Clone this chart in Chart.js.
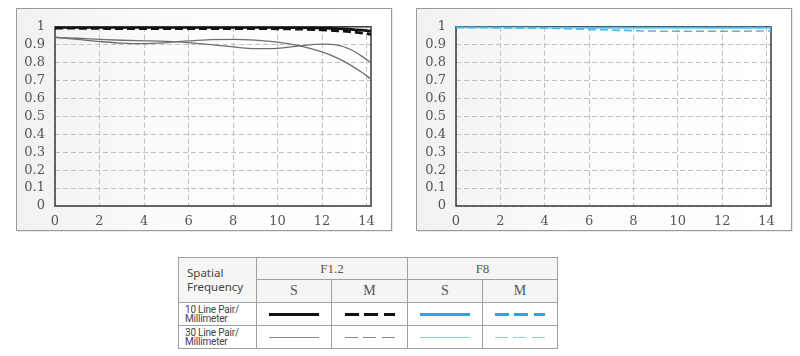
<!DOCTYPE html>
<html>
<head>
<meta charset="utf-8">
<script src="https://cdn.jsdelivr.net/npm/chart.js@4/dist/chart.umd.min.js"></script>
<style>
  html, body { margin: 0; padding: 0; background: #fff; width: 800px; height: 356px; overflow: hidden; }
  .box { position: absolute; top: 8px; width: 374px; height: 221px; border: 1px solid #9a9a9a;
         background: linear-gradient(to right, #f1f1f1, #fcfcfc 40%, #ffffff); box-shadow: 1px 1px 1px rgba(0,0,0,0.08); }
  .box canvas { position: absolute; left: 0; top: 0; }
  table { position: absolute; left: 178px; top: 257px; border-collapse: collapse; table-layout: fixed; }
  td { border: 1px solid #a0a0a0; padding: 0; text-align: center; vertical-align: middle; color: #555; }
  .hdr { background: #f5f5f5; }
  .sf { font-family: "Noto Sans", sans-serif; font-size: 11.5px; line-height: 14px; text-align: left; padding-left: 8px; color: #444; }
  .ap { font-family: "Liberation Serif", serif; font-size: 13px; }
  .sm { font-family: "Liberation Serif", serif; font-size: 14px; }
  .lp { font-family: "Roboto", sans-serif; font-size: 10px; line-height: 9.5px; text-align: left; padding-left: 6px; color: #444; letter-spacing: -0.2px; }
  .smp { margin: 0 auto; width: 50px; }
</style>
</head>
<body>
<div class="box" style="left:16px;"><canvas id="c1" width="374" height="221"></canvas></div>
<div class="box" style="left:416px;"><canvas id="c2" width="374" height="221"></canvas></div>

<table>
  <colgroup><col style="width:78px"><col style="width:75px"><col style="width:76px"><col style="width:75px"><col style="width:75px"></colgroup>
  <tr style="height:22px">
    <td class="hdr sf" rowspan="2">Spatial<br>Frequency</td>
    <td class="hdr ap" colspan="2">F1.2</td>
    <td class="hdr ap" colspan="2">F8</td>
  </tr>
  <tr style="height:23px">
    <td class="hdr sm">S</td><td class="hdr sm">M</td><td class="hdr sm">S</td><td class="hdr sm">M</td>
  </tr>
  <tr style="height:23px">
    <td class="lp">10 Line Pair/<br>Millimeter</td>
    <td><div class="smp" style="height:3px;background:#111;"></div></td>
    <td><div class="smp" style="height:3px;background:repeating-linear-gradient(to right,#111 0 14px,transparent 14px 19.5px);"></div></td>
    <td><div class="smp" style="height:3px;background:#2ba6dd;"></div></td>
    <td><div class="smp" style="height:3px;background:repeating-linear-gradient(to right,#2ba6dd 0 14px,transparent 14px 19.5px);"></div></td>
  </tr>
  <tr style="height:23px">
    <td class="lp">30 Line Pair/<br>Millimeter</td>
    <td><div class="smp" style="height:1px;background:#888;"></div></td>
    <td><div class="smp" style="height:1px;background:repeating-linear-gradient(to right,#888 0 13px,transparent 13px 18.5px);"></div></td>
    <td><div class="smp" style="height:1px;background:#8fd0ec;"></div></td>
    <td><div class="smp" style="height:1px;background:repeating-linear-gradient(to right,#8fd0ec 0 13px,transparent 13px 18.5px);"></div></td>
  </tr>
</table>

<script>
// Image height positions (mm from centre)
const fieldPos = [0, 1, 2, 3, 4, 5, 6, 7, 8, 9, 10, 11, 12, 12.7, 13.3, 13.8, 14.2];
const yTicks = [0, 0.1, 0.2, 0.3, 0.4, 0.5, 0.6, 0.7, 0.8, 0.9, 1];
const xTicks = [0, 2, 4, 6, 8, 10, 12, 14];

// F1.2
const f12_10S = [0.997, 0.997, 0.997, 0.997, 0.997, 0.997, 0.997, 0.997, 0.997, 0.997, 0.996, 0.995, 0.993, 0.990, 0.986, 0.981, 0.976];
const f12_10M = [0.993, 0.992, 0.991, 0.990, 0.990, 0.990, 0.990, 0.990, 0.990, 0.990, 0.989, 0.987, 0.983, 0.978, 0.972, 0.965, 0.958];
const f12_30S = [0.942, 0.930, 0.918, 0.909, 0.906, 0.912, 0.921, 0.928, 0.930, 0.926, 0.915, 0.894, 0.860, 0.825, 0.785, 0.745, 0.708];
const f12_30M = [0.940, 0.936, 0.930, 0.925, 0.922, 0.919, 0.912, 0.900, 0.888, 0.878, 0.880, 0.894, 0.903, 0.898, 0.872, 0.835, 0.800];

// F8
const f8_10S = [0.999, 0.999, 0.999, 0.999, 0.999, 0.999, 0.998, 0.998, 0.998, 0.998, 0.998, 0.998, 0.998, 0.998, 0.998, 0.998, 0.998];
const f8_10M = [0.999, 0.999, 0.998, 0.997, 0.996, 0.995, 0.994, 0.994, 0.994, 0.995, 0.995, 0.996, 0.996, 0.997, 0.997, 0.997, 0.998];
const f8_30S = [0.998, 0.998, 0.997, 0.996, 0.995, 0.994, 0.993, 0.992, 0.992, 0.992, 0.992, 0.992, 0.993, 0.993, 0.993, 0.993, 0.993];
const f8_30M = [0.999, 0.998, 0.997, 0.995, 0.993, 0.989, 0.985, 0.981, 0.978, 0.976, 0.975, 0.975, 0.975, 0.975, 0.976, 0.976, 0.977];

const pts = arr => arr.map((v, i) => ({x: fieldPos[i], y: v}));

const frame = {
  id: 'frame',
  beforeDatasetsDraw(chart) {
    const {ctx, chartArea: a} = chart;
    ctx.save();
    ctx.strokeStyle = '#3a3a3a';
    ctx.lineWidth = 1.5;
    ctx.strokeRect(a.left, a.top, a.right - a.left, a.bottom - a.top);
    ctx.restore();
  }
};

function ds(data, color, width, dash) {
  return { data: pts(data), borderColor: color, borderWidth: width, borderDash: dash || [],
           pointRadius: 0, fill: false, cubicInterpolationMode: 'monotone' };
}

function makeChart(id, datasets, yw) {
  new Chart(document.getElementById(id), {
    type: 'line',
    data: { datasets },
    plugins: [frame],
    options: {
      responsive: false, animation: false, events: [],
      layout: { padding: { top: 17, right: 20, left: 0, bottom: 0 } },
      plugins: { legend: { display: false }, tooltip: { enabled: false } },
      scales: {
        x: {
          type: 'linear', min: 0, max: 14.2,
          afterFit(s) { s.height = 24; },
          afterBuildTicks(s) { s.ticks = xTicks.map(v => ({value: v})); },
          ticks: { autoSkip: false, maxRotation: 0, includeBounds: false, padding: 8, color: '#555', font: { family: 'DejaVu Serif', size: 13 } },
          grid: { color: '#c0c0c0', lineWidth: 1, drawTicks: false },
          border: { display: false, dash: [5, 3] }
        },
        y: {
          type: 'linear', min: 0, max: 1,
          afterFit(s) { s.width = yw; },
          afterBuildTicks(s) { s.ticks = yTicks.map(v => ({value: v})); },
          ticks: { autoSkip: false, padding: 10, color: '#555', font: { family: 'DejaVu Serif', size: 13 },
                   callback: v => String(Math.round(v * 10) / 10) },
          grid: { color: '#c0c0c0', lineWidth: 1, drawTicks: false },
          border: { display: false, dash: [5, 3] }
        }
      }
    }
  });
}

makeChart('c1', [
  ds(f12_30S, '#6f6f6f', 1.3),
  ds(f12_30M, '#6f6f6f', 1.3),
  ds(f12_10M, '#111111', 2.8, [8, 4]),
  ds(f12_10S, '#111111', 2.8)
], 38);

makeChart('c2', [
  ds(f8_30M, '#4fb6e3', 1.5, [8, 4]),
  ds(f8_30S, '#8fd0ec', 1.3),
  ds(f8_10M, '#2ba6dd', 2.6, [8, 4]),
  ds(f8_10S, '#2ba6dd', 2.6)
], 39);
</script>
</body>
</html>
